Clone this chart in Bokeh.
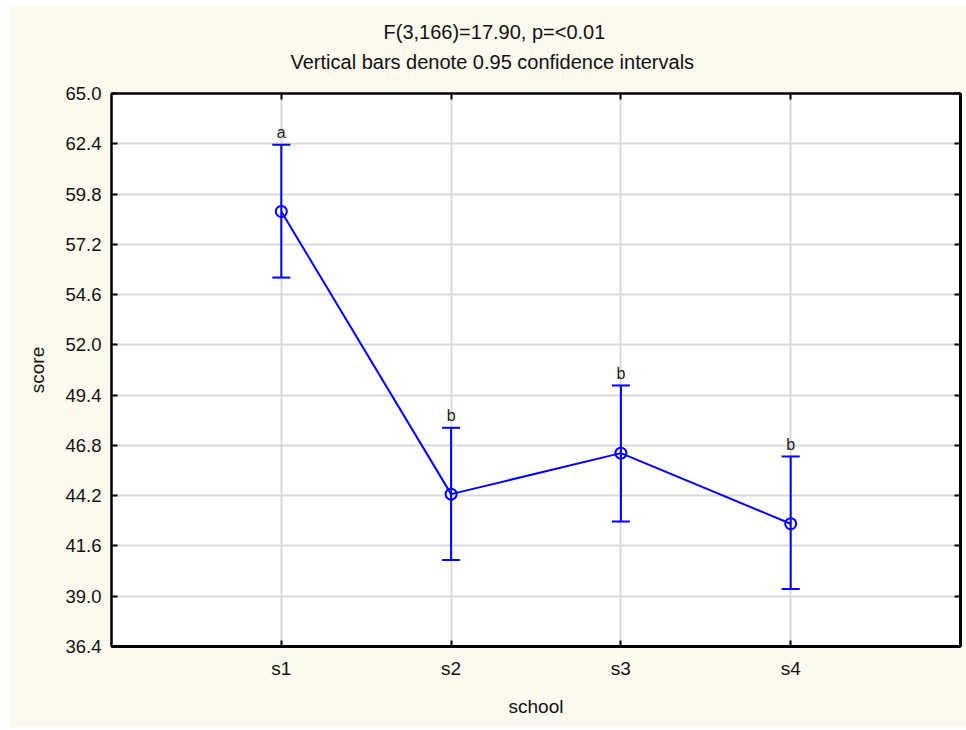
from bokeh.plotting import figure
from bokeh.models import (ColumnDataSource, Range1d, FixedTicker, LinearAxis, Whisker,
                          TeeHead, Title, CustomJSTickFormatter)
from bokeh.core.properties import value
from bokeh.embed import file_html
from bokeh.resources import INLINE

categories = ["s1", "s2", "s3", "s4"]
means = [58.9, 44.28, 46.4, 42.75]
upper = [62.35, 47.71, 49.9, 46.22]
lower = [55.48, 40.88, 42.87, 39.38]
letters = ["a", "b", "b", "b"]
y_ticks = [36.4, 39.0, 41.6, 44.2, 46.8, 49.4, 52.0, 54.6, 57.2, 59.8, 62.4, 65.0]
title_main = "F(3,166)=17.90, p=<0.01"
title_sub = "Vertical bars denote 0.95 confidence intervals"

xs = list(range(1, len(categories) + 1))
src = ColumnDataSource(dict(x=xs, mean=means, upper=upper, lower=lower, letter=letters))

FONT = "Liberation Sans"
BLUE = "#0000FF"
BG = "#FDF9EE"
TXT = "#111111"

p = figure(width=956, height=722, output_backend="svg", toolbar_location=None,
           x_range=Range1d(0, len(categories) + 1), y_range=Range1d(y_ticks[0], y_ticks[-1]),
           min_border_left=101, min_border_right=6, min_border_top=88, min_border_bottom=81,
           x_axis_label="school", y_axis_label="score")
p.margin = (5, 0, 0, 10)
p.title = None
p.background_fill_color = "white"
p.border_fill_color = BG
p.outline_line_color = "black"
p.outline_line_width = 2

xax = p.below[0]
yax = p.left[0]

xt = FixedTicker(ticks=xs)
yt = FixedTicker(ticks=y_ticks)

blank = CustomJSTickFormatter(code="return ''")
for loc, tk in [("right", yt), ("above", xt)]:
    ax = LinearAxis(ticker=tk, formatter=blank, major_tick_in=6, major_tick_out=0,
                    minor_tick_in=0, minor_tick_out=0, major_tick_line_width=2,
                    axis_line_color="black", axis_line_width=3 if loc == "right" else 2,
                    major_label_standoff=0, major_label_text_font_size="0px")
    p.add_layout(ax, loc)

p.add_layout(Title(text=title_sub, align="left", offset=179, standoff=42,
                   text_font=FONT, text_font_size="20px", text_font_style="normal",
                   text_color=TXT), "above")
p.add_layout(Title(text=title_main, align="left", offset=272, standoff=-31,
                   text_font=FONT, text_font_size="20px", text_font_style="normal",
                   text_color=TXT), "above")

xax.ticker = xt
yax.ticker = yt
xax.major_label_overrides = {x: c for x, c in zip(xs, categories)}
yax.major_label_overrides = {t: f"{t:.1f}" for t in y_ticks}

for ax in [xax, yax]:
    ax.major_tick_in = 6
    ax.major_tick_out = 0
    ax.minor_tick_in = 0
    ax.minor_tick_out = 0
    ax.major_tick_line_width = 2
    ax.major_tick_line_color = "black"
    ax.axis_line_color = "black"
    ax.axis_line_width = 2
    ax.major_label_text_font = FONT
    ax.major_label_text_font_size = "19px"
    ax.major_label_text_color = TXT
    ax.axis_label_text_font = FONT
    ax.axis_label_text_font_size = "19px"
    ax.axis_label_text_font_style = "normal"
    ax.axis_label_text_color = TXT
yax.major_label_text_font_size = "18.5px"
xax.major_label_standoff = 11
xax.axis_label_standoff = 14
yax.major_label_standoff = 10
yax.axis_label_standoff = 14
xax.axis_line_width = 3

p.xgrid.ticker = xt
p.ygrid.ticker = yt
for g in [p.xgrid[0], p.ygrid[0]]:
    g.grid_line_color = "#D9D9D9"
    g.grid_line_width = 2

p.line("x", "mean", source=src, line_color=BLUE, line_width=2)
w = Whisker(base="x", upper="upper", lower="lower", source=src, dimension="height",
            line_color=BLUE, line_width=2,
            upper_head=TeeHead(size=18, line_color=BLUE, line_width=2),
            lower_head=TeeHead(size=18, line_color=BLUE, line_width=2))
p.add_layout(w)
p.scatter("x", "mean", source=src, marker="circle", size=11, fill_alpha=0,
          line_color=BLUE, line_width=2)
p.text("x", "upper", text="letter", source=src, text_align="center",
       text_baseline="alphabetic", y_offset=-12, text_font=value(FONT),
       text_font_size="16px", text_color="#222222")

open("out.html", "w").write(file_html(p, INLINE))
